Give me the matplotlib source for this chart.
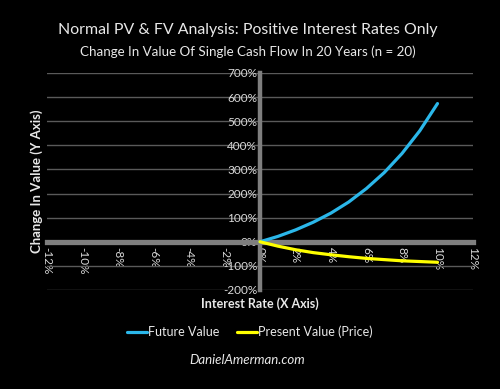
import matplotlib as mpl
mpl.use('Agg')
import matplotlib.pyplot as plt
from matplotlib.ticker import FuncFormatter

# interest rate (%) and change in value (%)
rates = [0, 1, 2, 3, 4, 5, 6, 7, 8, 9, 10]
future_value = [0, 22, 49, 81, 119, 165, 221, 287, 366, 460, 573]
present_value = [0, -18, -33, -45, -54, -62, -69, -74, -79, -82, -85]

x_ticks = [-12, -10, -8, -6, -4, -2, 0, 2, 4, 6, 8, 10, 12]
y_ticks = [-200, -100, 0, 100, 200, 300, 400, 500, 600, 700]

plt.rcParams['font.family'] = ['Lato', 'DejaVu Sans']

fig = plt.figure(figsize=(5, 3.89), dpi=100, facecolor='black')
ax = fig.add_axes([0.094, 0.2545, 0.852, 0.558])
ax.set_facecolor('black')

ax.plot(rates, future_value, color='#2bb7ea', lw=2.3, solid_capstyle='round', zorder=4)
ax.plot(rates, present_value, color='#ffff00', lw=2.3, solid_capstyle='round', zorder=4)

ax.set_xlim(-12, 12)
ax.set_ylim(-200, 700)
ax.set_xticks(x_ticks)
ax.set_yticks(y_ticks)
ax.xaxis.set_major_formatter(FuncFormatter(lambda v, p: '{:d}%'.format(int(v))))
ax.yaxis.set_major_formatter(FuncFormatter(lambda v, p: '{:d}%'.format(int(v))))

for s in ['top', 'right']:
    ax.spines[s].set_visible(False)
for s in ['left', 'bottom']:
    ax.spines[s].set_position(('data', 0))
    ax.spines[s].set_color('#7f7f7f')
    ax.spines[s].set_zorder(3)
ax.spines['left'].set_linewidth(3.2)
ax.spines['bottom'].set_linewidth(3.8)

ax.yaxis.grid(True, color='#5a5a5a', lw=1)
ax.set_axisbelow(True)
ax.tick_params(axis='both', length=0, colors='#d9d9d9', labelsize=8.5)
ax.tick_params(axis='x', pad=4)
ax.tick_params(axis='y', pad=2)
for lbl in ax.get_xticklabels():
    lbl.set_rotation(270)
    lbl.set_va('top')
    lbl.set_ha('center')

fig.text(0.496, 0.923, 'Normal PV & FV Analysis: Positive Interest Rates Only',
         ha='center', va='center', color='#e8e8e8', fontsize=11.4)
fig.text(0.496, 0.866, 'Change In Value Of Single Cash Flow In 20 Years (n = 20)',
         ha='center', va='center', color='#e8e8e8', fontsize=9.6)
fig.text(0.074, 0.535, 'Change In Value (Y Axis)', rotation=90, ha='center', va='center',
         color='#e8e8e8', fontsize=9.5, fontweight='bold')
fig.text(0.52, 0.22, 'Interest Rate (X Axis)', ha='center', va='center',
         color='#e8e8e8', fontsize=9, fontweight='bold')

leg = ax.legend(['Future Value', 'Present Value (Price)'], loc='center',
                bbox_to_anchor=(0.5, 0.146), bbox_transform=fig.transFigure,
                ncol=2, frameon=False, fontsize=9, handlelength=1.6,
                handletextpad=0.1, columnspacing=1.4)
for t in leg.get_texts():
    t.set_color('#e8e8e8')

fig.text(0.494, 0.075, 'DanielAmerman.com', ha='center', va='center',
         color='#e8e8e8', fontsize=9.5, style='italic')

fig.savefig('out.png', dpi=100, facecolor='black')
